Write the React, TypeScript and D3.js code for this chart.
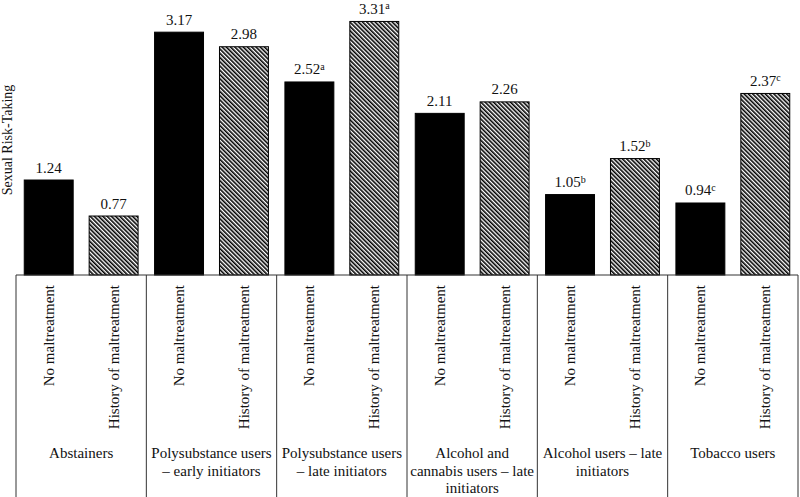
import React, { useEffect, useRef } from 'react';
import * as d3 from 'd3';

const groupLabels = [
  ['Abstainers'],
  ['Polysubstance users', '– early initiators'],
  ['Polysubstance users', '– late initiators'],
  ['Alcohol and', 'cannabis users – late', 'initiators'],
  ['Alcohol users – late', 'initiators'],
  ['Tobacco users'],
];
const seriesNames = ['No maltreatment', 'History of maltreatment'];
const noMaltreatment = [1.24, 3.17, 2.52, 2.11, 1.05, 0.94];
const noMaltreatmentSup = ['', '', 'a', '', 'b', 'c'];
const historyMaltreatment = [0.77, 2.98, 3.31, 2.26, 1.52, 2.37];
const historyMaltreatmentSup = ['', '', 'a', '', 'b', 'c'];

const font = 'Liberation Serif, DejaVu Serif, serif';

export default function App() {
  const ref = useRef<SVGSVGElement>(null);

  useEffect(() => {
    const svg = d3.select(ref.current);
    svg.selectAll('*').remove();

    const width = 800;
    const height = 497;
    const baseY = 275;
    const left = 16;
    const right = 798;

    const defs = svg.append('defs');
    const pat = defs.append('pattern')
      .attr('id', 'hatch')
      .attr('patternUnits', 'userSpaceOnUse')
      .attr('width', 3)
      .attr('height', 3)
      .attr('patternTransform', 'rotate(-45)');
    pat.append('rect').attr('width', 3).attr('height', 3).attr('fill', '#fff');
    pat.append('rect').attr('width', 1.6).attr('height', 3).attr('fill', '#000');

    const groupIdx = groupLabels.map((_, i) => i);
    const x0 = d3.scaleBand<number>()
      .domain(groupIdx)
      .range([left, right])
      .padding(0);
    const x1 = d3.scaleBand<string>()
      .domain(seriesNames)
      .range([0, x0.bandwidth()])
      .paddingInner(0.246)
      .paddingOuter(0.127);
    const y = d3.scaleLinear().domain([0, 3.59]).range([baseY, 0]);

    const rows = groupIdx.flatMap(i => [
      { g: i, s: seriesNames[0], v: noMaltreatment[i], sup: noMaltreatmentSup[i], fill: '#000' },
      { g: i, s: seriesNames[1], v: historyMaltreatment[i], sup: historyMaltreatmentSup[i], fill: 'url(#hatch)' },
    ]);

    const plot = svg.append('g');

    plot.selectAll('rect.bar')
      .data(rows)
      .enter()
      .append('rect')
      .attr('class', 'bar')
      .attr('x', d => (x0(d.g) as number) + (x1(d.s) as number))
      .attr('y', d => y(d.v))
      .attr('width', x1.bandwidth())
      .attr('height', d => baseY - y(d.v))
      .attr('fill', d => d.fill)
      .attr('stroke', '#000')
      .attr('stroke-width', 1);

    // value labels
    const labels = plot.selectAll('text.val')
      .data(rows)
      .enter()
      .append('text')
      .attr('class', 'val')
      .attr('x', d => (x0(d.g) as number) + (x1(d.s) as number) + x1.bandwidth() / 2)
      .attr('y', d => y(d.v) - 7.5)
      .attr('text-anchor', 'middle')
      .attr('font-family', font)
      .attr('font-size', 15)
      .attr('fill', '#111');
    labels.append('tspan').text(d => d.v.toFixed(2));
    labels.filter(d => d.sup !== '')
      .append('tspan')
      .attr('dy', -4.5)
      .attr('font-size', 10)
      .text(d => d.sup);

    // table lines
    const lineColor = '#333';
    svg.append('line')
      .attr('x1', left).attr('x2', right)
      .attr('y1', baseY).attr('y2', baseY)
      .attr('stroke', lineColor).attr('stroke-width', 1);
    const edges = groupIdx.map(i => x0(i) as number).concat([right]);
    svg.selectAll('line.div')
      .data(edges)
      .enter()
      .append('line')
      .attr('class', 'div')
      .attr('x1', d => d).attr('x2', d => d)
      .attr('y1', baseY).attr('y2', height)
      .attr('stroke', lineColor).attr('stroke-width', 1);

    // rotated series labels
    svg.selectAll('text.ser')
      .data(rows)
      .enter()
      .append('text')
      .attr('class', 'ser')
      .attr('transform', d => {
        const cx = (x0(d.g) as number) + (x1(d.s) as number) + x1.bandwidth() / 2 + 5;
        return `translate(${cx},${baseY + 10}) rotate(-90)`;
      })
      .attr('text-anchor', 'end')
      .attr('font-family', font)
      .attr('font-size', 15)
      .attr('fill', '#111')
      .text(d => d.s);

    // group labels
    const gl = svg.selectAll('text.grp')
      .data(groupIdx)
      .enter()
      .append('text')
      .attr('class', 'grp')
      .attr('x', i => (x0(i) as number) + x0.bandwidth() / 2)
      .attr('y', 458)
      .attr('text-anchor', 'middle')
      .attr('font-family', font)
      .attr('font-size', 15)
      .attr('fill', '#111');
    gl.selectAll('tspan')
      .data(i => groupLabels[i].map(t => ({ t, i })))
      .enter()
      .append('tspan')
      .attr('x', d => (x0(d.i) as number) + x0.bandwidth() / 2)
      .attr('dy', (_, k) => (k === 0 ? 0 : 17.5))
      .text(d => d.t);

    // y axis title
    svg.append('text')
      .attr('transform', `translate(12,${140}) rotate(-90)`)
      .attr('text-anchor', 'middle')
      .attr('font-family', font)
      .attr('font-size', 14)
      .attr('fill', '#111')
      .text('Sexual Risk-Taking');

    svg.attr('width', width).attr('height', height);
  }, []);

  return (
    <svg
      ref={ref}
      width={800}
      height={497}
      style={{ position: 'absolute', left: 0, top: 0, background: '#fff' }}
    />
  );
}
